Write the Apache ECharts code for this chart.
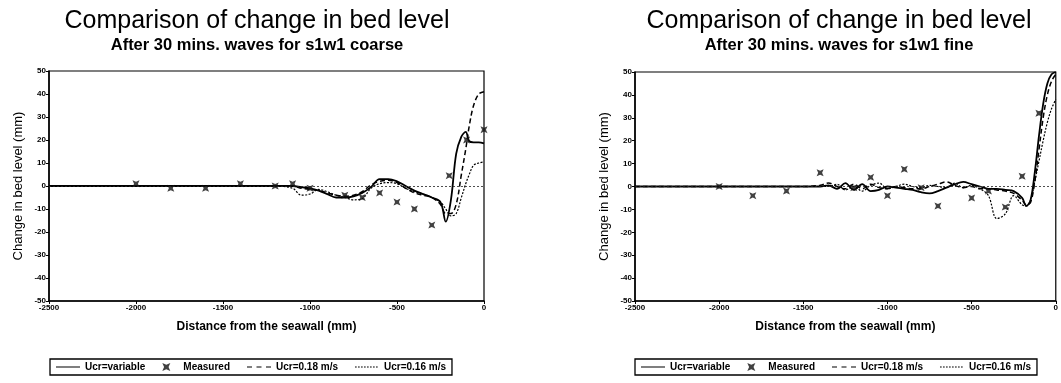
<!DOCTYPE html>
<html>
<head>
<meta charset="utf-8">
<script src="https://cdn.jsdelivr.net/npm/echarts@6/dist/echarts.min.js"></script>
<style>
html,body{margin:0;padding:0;background:#fff;}
#chart{width:1061px;height:383px;}
</style>
</head>
<body>
<div id="chart"></div>
<script>
// ---------- data ----------
const titleMain = 'Comparison of change in bed level';
const subCoarse = 'After 30 mins. waves for s1w1 coarse';
const subFine = 'After 30 mins. waves for s1w1 fine';
const xName = 'Distance from the seawall (mm)';
const yName = 'Change in bed level (mm)';
const seriesNames = ['Ucr=variable', 'Measured', 'Ucr=0.18 m/s', 'Ucr=0.16 m/s'];

// coarse (left)
const coarseX =    [-2500,-2000,-1500,-1200,-1100,-1050,-1000,-950,-900,-850,-800,-750,-700,-650,-600,-550,-500,-450,-400,-350,-300,-250,-220,-190,-160,-130,-105,-85,-60,-30,0];
const coarseVar =  [0,0,0,0,0,-0.5,-1,-2,-3.5,-5,-5,-4.5,-3,-0.5,3,3,2,0,-2,-3.5,-5,-7,-15.5,-6,14,21.5,23.5,19.5,19,19,18.5];
const coarse018 =  [0,0,0,0,0,-1,-1.5,-2,-3,-4,-4.5,-4,-2.5,0.5,2,2.5,1.5,-1,-3,-4,-5,-8,-12,-12,-8,5,16,26,35,40,41];
const coarse016 =  [0,0,0,0,-1,-4,-3.5,-1.5,-2.5,-4,-5,-6,-5.5,-1,1,1.5,1,-1,-2.5,-3.5,-5,-7,-10,-13,-12,-5,1,5,9,10,10.5];
const coarseMeasX = [-2000,-1800,-1600,-1400,-1200,-1100,-1000,-800,-700,-600,-500,-400,-300,-200,-100,0];
const coarseMeasY = [1,-1,-1,1,0,1,-1,-4,-5,-3,-7,-10,-17,4.5,20,24.5];

// fine (right)
const fineX =    [-2500,-2000,-1500,-1400,-1350,-1300,-1250,-1200,-1150,-1100,-1050,-1000,-950,-900,-850,-800,-750,-700,-650,-600,-550,-500,-450,-400,-350,-300,-250,-200,-175,-150,-125,-100,-75,-50,-25,0];
const fineVar =  [0,0,0,0,0.5,-1,1.5,-1.5,1,-2,-1.5,0,-0.5,-1,-1.5,-2.5,-3,-2,-0.5,1,2,1,0,-1,-1,-1.5,-2,-5,-8.5,-6,6,22,36,45,49,50];
const fine018 =  [0,0,0,0.5,1.5,0,-1,1,-1,1,-0.5,-1,0,-0.5,-1,-1,0,1,2,0.5,-0.5,0,-1,-1,-1.5,-2,-3,-6,-8,-7,2,16,30,40,46,49];
const fine016 =  [0,0,0,0,0,1,-1.5,0,-2,0.5,1.5,-1,0,1,0,-0.5,0.5,0,-0.5,1.5,-0.5,0.5,-1,-4,-14,-12,-4,-8,-8.5,-6,2,11,20,28,34,38];
const fineMeasX = [-2000,-1800,-1600,-1400,-1200,-1100,-1000,-900,-800,-700,-500,-400,-300,-200,-100];
const fineMeasY = [0,-4,-2,6,-0.5,4,-4,7.5,-0.5,-8.5,-5,-2,-9,4.5,32];

const xTicks = {min:-2500, max:0, interval:500};
const yTicks = {min:-50, max:50, interval:10};

// ---------- helpers ----------
const zip = (xs, ys) => xs.map((x, i) => [x, ys[i]]);
const starPath = 'path://M0,0L5,2.2L10,0L7.8,5L10,10L5,7.8L0,10L2.2,5Z';
const FONT = '"Liberation Sans", Arial, sans-serif';

// legend icon paths (24 x 8 box; tiny corner dots fix the bounding box)
const BOX = 'M0,0h0.01v0.01h-0.01Z M23.99,7.99h0.01v0.01h-0.01Z ';
const iconSolid = 'path://' + BOX + 'M0,3.4H24V4.6H0Z';
const iconDashed = 'path://' + BOX + 'M0,3.4H5V4.6H0Z M9.5,3.4H14.5V4.6H9.5Z M19,3.4H24V4.6H19Z';
let dots = '';
for (let i = 0; i < 24; i += 3) dots += 'M' + i + ',3.5H' + (i + 1.7) + 'V4.5H' + i + 'Z ';
const iconDotted = 'path://' + BOX + dots;
const iconStar = starPath;

function axes(idx) {
  const x = {
    gridIndex: idx, type: 'value', min: xTicks.min, max: xTicks.max, interval: xTicks.interval,
    name: xName, nameLocation: 'middle', nameGap: 20,
    nameTextStyle: {fontFamily: FONT, fontSize: 12, fontWeight: 'bold', color: '#000'},
    axisLine: {onZero: false, lineStyle: {color: '#000', width: 1.5}},
    axisTick: {show: true, length: 3, lineStyle: {color: '#000'}},
    axisLabel: {fontFamily: FONT, fontSize: 8, fontWeight: 'bold', color: '#000', margin: 3,
                formatter: v => String(v)},
    splitLine: {show: false}
  };
  const y = {
    gridIndex: idx, type: 'value', min: yTicks.min, max: yTicks.max, interval: yTicks.interval,
    name: yName, nameLocation: 'middle', nameGap: 24,
    nameTextStyle: {fontFamily: FONT, fontSize: 13, color: '#000'},
    axisLine: {onZero: false, lineStyle: {color: '#000', width: 1.5}},
    axisTick: {show: true, length: 3, lineStyle: {color: '#000'}},
    axisLabel: {fontFamily: FONT, fontSize: 8, fontWeight: 'bold', color: '#000', margin: 3,
                formatter: v => String(v)},
    splitLine: {show: false}
  };
  return [x, y];
}

function lineSeries(name, idx, xs, ys, lineType, width) {
  return {
    name, type: 'line', xAxisIndex: idx, yAxisIndex: idx,
    data: zip(xs, ys), smooth: 0.35, symbol: 'none', clip: true,
    lineStyle: {color: '#000', width, type: lineType},
    itemStyle: {color: '#000'},
    z: 3
  };
}

function chartSeries(idx, xs, v, a, b, mx, my) {
  return [
    lineSeries(seriesNames[0], idx, xs, v, 'solid', 1.8),
    {
      name: seriesNames[1], type: 'scatter', xAxisIndex: idx, yAxisIndex: idx,
      data: zip(mx, my), symbol: starPath, symbolSize: 7,
      itemStyle: {color: '#111'}, z: 4,
      markLine: {
        silent: true, symbol: 'none', label: {show: false},
        lineStyle: {color: '#222', type: [2, 2], width: 0.8},
        data: [{yAxis: 0}]
      }
    },
    lineSeries(seriesNames[2], idx, xs, a, [5, 3], 1.5),
    lineSeries(seriesNames[3], idx, xs, b, [2, 1.5], 1.2)
  ];
}

const [x0, y0] = axes(0);
const [x1, y1] = axes(1);

const legendBase = {
  data: [
    {name: seriesNames[0], icon: iconSolid},
    {name: seriesNames[1], icon: iconStar, itemStyle: {color: '#111'}},
    {name: seriesNames[2], icon: iconDashed},
    {name: seriesNames[3], icon: iconDotted}
  ],
  orient: 'horizontal', top: 359, itemWidth: 24, itemHeight: 8, itemGap: 17,
  padding: [3, 6], borderColor: '#000', borderWidth: 1.3, width: 430,
  textStyle: {fontFamily: FONT, fontSize: 10, fontWeight: 'bold', color: '#000'},
  itemStyle: {color: '#000'},
  selectedMode: false
};

const option = {
  backgroundColor: '#fff',
  animation: false,
  title: [
    {text: titleMain, subtext: subCoarse, left: 252, top: 4, textAlign: 'center', itemGap: 3,
     textStyle: {fontFamily: FONT, fontSize: 25, fontWeight: 'normal', color: '#000'},
     subtextStyle: {fontFamily: FONT, fontSize: 16.5, fontWeight: 'bold', color: '#000'}},
    {text: titleMain, subtext: subFine, left: 834, top: 4, textAlign: 'center', itemGap: 3,
     textStyle: {fontFamily: FONT, fontSize: 25, fontWeight: 'normal', color: '#000'},
     subtextStyle: {fontFamily: FONT, fontSize: 16.5, fontWeight: 'bold', color: '#000'}}
  ],
  legend: [
    Object.assign({}, legendBase, {left: 50}),
    Object.assign({}, legendBase, {left: 635})
  ],
  grid: [
    {left: 49, top: 71, width: 435, height: 230, show: true, borderColor: '#000', borderWidth: 1.2, backgroundColor: 'transparent'},
    {left: 635, top: 72, width: 436, height: 229, show: true, borderColor: '#000', borderWidth: 1.2, backgroundColor: 'transparent'}
  ],
  xAxis: [x0, x1],
  yAxis: [y0, y1],
  series: [
    ...chartSeries(0, coarseX, coarseVar, coarse018, coarse016, coarseMeasX, coarseMeasY),
    ...chartSeries(1, fineX, fineVar, fine018, fine016, fineMeasX, fineMeasY)
  ]
};

const chart = echarts.init(document.getElementById('chart'), null, {renderer: 'canvas'});
chart.setOption(option);
</script>
</body>
</html>
